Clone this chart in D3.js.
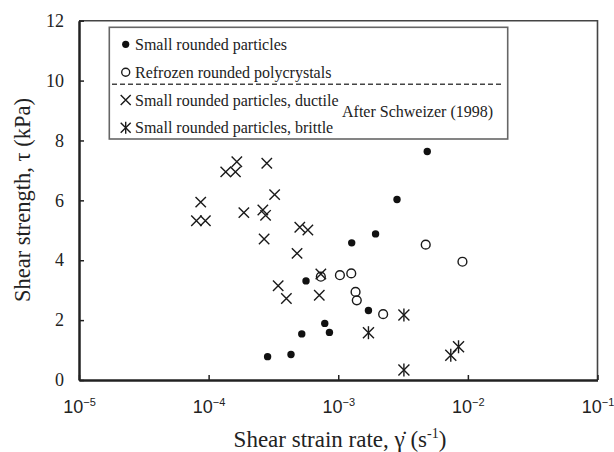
<!DOCTYPE html>
<html>
  <head>
    <script src="https://cdnjs.cloudflare.com/ajax/libs/d3/7.8.5/d3.min.js"></script>
    <style>
      body { margin: 0; background: #fff; }
      svg { font-family: "Liberation Serif", "DejaVu Serif", serif; }
      .tick line { stroke: #222; stroke-width: 1.5; }
      .domain { stroke: #222; stroke-width: 2.5; }
      .frame { fill: none; stroke: #444; stroke-width: 1.6; }
      .legend-box { fill: none; stroke: #666; stroke-width: 1.6; }
      .mark { stroke: #1a1a1a; stroke-width: 1.4; fill: none; }
    </style>
  </head>
  <body>
    <svg width="614" height="452"></svg>
    <script>
      // shear strain rate (1/s), shear strength (kPa)
      var smallRounded = [
        [4.86e-3, 7.63], [2.84e-3, 6.03], [1.94e-3, 4.88], [1.27e-3, 4.58],
        [5.64e-4, 3.31], [1.71e-3, 2.32], [7.87e-4, 1.89], [8.55e-4, 1.59],
        [5.23e-4, 1.54], [4.32e-4, 0.85], [2.85e-4, 0.78]
      ];
      var refrozen = [
        [4.73e-3, 4.52], [9.08e-3, 3.95], [1.03e-3, 3.50], [1.26e-3, 3.56],
        [1.36e-3, 2.94], [1.39e-3, 2.66], [2.22e-3, 2.20], [7.34e-4, 3.45]
      ];
      var ductile = [
        [8.05e-5, 5.32], [9.44e-5, 5.32], [8.69e-5, 5.94], [1.355e-4, 6.95],
        [1.61e-4, 6.95], [1.65e-4, 7.29], [2.81e-4, 7.24], [3.23e-4, 6.19],
        [1.87e-4, 5.59], [2.62e-4, 5.68], [2.75e-4, 5.50], [2.68e-4, 4.71],
        [5.05e-4, 5.10], [5.83e-4, 5.01], [4.81e-4, 4.23], [3.44e-4, 3.15],
        [3.98e-4, 2.72], [7.14e-4, 2.83], [7.34e-4, 3.54]
      ];
      var brittle = [
        [3.21e-3, 2.17], [1.71e-3, 1.58], [3.21e-3, 0.33], [7.38e-3, 0.83], [8.47e-3, 1.11]
      ];
      var xTicks = [1e-5, 1e-4, 1e-3, 1e-2, 1e-1];
      var xTickExp = ["\u22125", "\u22124", "\u22123", "\u22122", "\u22121"];
      var yTicks = [0, 2, 4, 6, 8, 10, 12];
      var legendLabels = [
        "Small rounded particles",
        "Refrozen rounded polycrystals",
        "Small rounded particles, ductile",
        "Small rounded particles, brittle"
      ];

      var svg = d3.select("svg");
      var pLeft = 79, pRight = 597.5, pTop = 20.7, pBottom = 380;

      var x = d3.scaleLog().domain([1e-5, 1e-1]).range([pLeft, pRight]);
      var y = d3.scaleLinear().domain([0, 12]).range([pBottom, pTop]);

      // top/right frame
      svg.append("path").attr("class", "frame")
        .attr("d", "M" + pLeft + "," + pTop + "H" + pRight + "V" + pBottom);

      var xAxis = svg.append("g")
        .attr("transform", "translate(0," + pBottom + ")")
        .call(d3.axisBottom(x).tickValues(xTicks).tickSize(-5).tickSizeOuter(0).tickFormat(""));
      xAxis.selectAll(".tick").append("text")
        .attr("y", 33).attr("fill", "#222")
        .attr("text-anchor", "middle")
        .style("font-size", "18px")
        .each(function (d, i) {
          var t = d3.select(this);
          t.append("tspan").text("10");
          t.append("tspan").attr("dy", -7).style("font-size", "11px").text(xTickExp[i]);
        });

      var yAxis = svg.append("g")
        .attr("transform", "translate(" + pLeft + ",0)")
        .call(d3.axisLeft(y).tickValues(yTicks).tickSize(-5).tickSizeOuter(0).tickPadding(15));
      yAxis.selectAll(".tick text")
        .attr("fill", "#222")
        .style("font-size", "18px")
        .style("font-family", "Liberation Serif, serif");

      // axis titles
      svg.append("text")
        .attr("transform", "translate(30,200) rotate(-90)")
        .attr("text-anchor", "middle")
        .attr("fill", "#222")
        .style("font-size", "22.5px")
        .text("Shear strength, \u03c4 (kPa)");

      var xt = svg.append("text")
        .attr("x", 340).attr("y", 447)
        .attr("text-anchor", "middle")
        .attr("fill", "#222")
        .style("font-size", "23px");
      xt.append("tspan").text("Shear strain rate, \u03b3\u0307 (s");
      xt.append("tspan").attr("dy", -9).style("font-size", "14px").text("-1");
      xt.append("tspan").attr("dy", 9).text(")");

      // markers
      function cross(g, s) {
        g.append("path").attr("class", "mark")
          .attr("d", "M" + -s + "," + -s + "L" + s + "," + s + "M" + s + "," + -s + "L" + -s + "," + s);
      }
      function star(g, s) {
        cross(g, s);
        g.append("path").attr("class", "mark").attr("d", "M0," + (-s - 1) + "V" + (s + 1));
      }

      var plot = svg.append("g");
      plot.selectAll(".filled").data(smallRounded).enter().append("circle")
        .attr("cx", d => x(d[0])).attr("cy", d => y(d[1]))
        .attr("r", 3.7).attr("fill", "#111");
      plot.selectAll(".open").data(refrozen).enter().append("circle")
        .attr("cx", d => x(d[0])).attr("cy", d => y(d[1]))
        .attr("r", 4.4).attr("class", "mark").attr("stroke-width", 1.2);
      plot.selectAll(".duct").data(ductile).enter().append("g")
        .attr("transform", d => "translate(" + x(d[0]) + "," + y(d[1]) + ")")
        .each(function () { cross(d3.select(this), 5.2); });
      plot.selectAll(".brit").data(brittle).enter().append("g")
        .attr("transform", d => "translate(" + x(d[0]) + "," + y(d[1]) + ")")
        .each(function () { star(d3.select(this), 5.5); });

      // legend
      var lg = svg.append("g");
      lg.append("rect").attr("class", "legend-box")
        .attr("x", 109.3).attr("y", 27.3).attr("width", 398.4).attr("height", 111.7)
        .attr("fill", "#fff");
      var rowY = [44.3, 72.3, 100, 127.7];
      lg.append("line")
        .attr("x1", 112).attr("x2", 502).attr("y1", 84.3).attr("y2", 84.3)
        .attr("stroke", "#444").attr("stroke-width", 1.5).attr("stroke-dasharray", "5,3");
      lg.append("circle").attr("cx", 125.7).attr("cy", rowY[0]).attr("r", 3.6).attr("fill", "#111");
      lg.append("circle").attr("cx", 125.7).attr("cy", rowY[1]).attr("r", 4).attr("class", "mark").attr("stroke-width", 1.2);
      cross(lg.append("g").attr("transform", "translate(125.7," + rowY[2] + ")"), 5);
      star(lg.append("g").attr("transform", "translate(125.7," + rowY[3] + ")"), 5);
      lg.selectAll(".ltxt").data(legendLabels).enter().append("text")
        .attr("x", 135).attr("y", (d, i) => rowY[i] + 5.5)
        .attr("fill", "#222")
        .style("font-size", "16px")
        .text(d => d);
      lg.append("text")
        .attr("x", 342).attr("y", 117)
        .attr("fill", "#222")
        .style("font-size", "16px")
        .text("After Schweizer (1998)");
    </script>
  </body>
</html>
